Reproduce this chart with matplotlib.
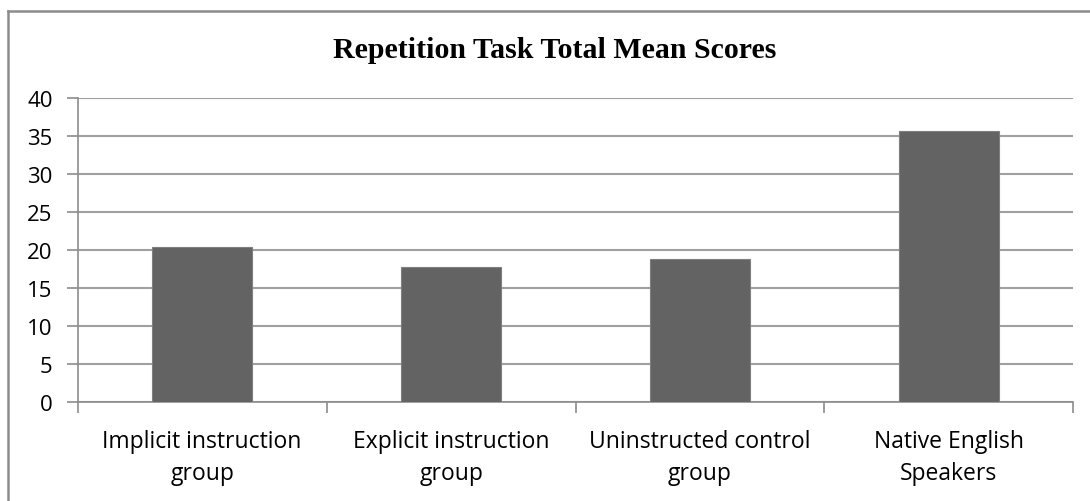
import matplotlib.pyplot as plt
from matplotlib.lines import Line2D

# data
groups = ["Implicit instruction\ngroup", "Explicit instruction\ngroup",
          "Uninstructed control\ngroup", "Native English\nSpeakers"]
mean_scores = [20.4, 17.8, 18.8, 35.7]
y_ticks = [0, 5, 10, 15, 20, 25, 30, 35, 40]

fig = plt.figure(figsize=(10.9, 5.02), dpi=100)
ax = fig.add_axes([0.0713, 0.1966, 0.9134, 0.6062])

x = list(range(len(groups)))
ax.bar(x, mean_scores, width=0.4, color="#636363", edgecolor="#7f7f7f",
       linewidth=0.8, zorder=3)

ax.set_xlim(-0.5, len(groups) - 0.5)
ax.set_ylim(0, 40)
ax.set_yticks(y_ticks)
ax.tick_params(axis="y", length=8, width=1.2, color="#8c8c8c",
               labelsize=16, pad=10)
ax.yaxis.grid(True, color="#a0a0a0", linewidth=1.5, zorder=0)

# category labels centred, tick marks on category boundaries
ax.set_xticks(x)
ax.set_xticklabels(groups, fontsize=16.5, linespacing=1.45)
ax.tick_params(axis="x", length=0, pad=19)
ax.set_xticks([i - 0.5 for i in range(len(groups) + 1)], minor=True)
ax.tick_params(axis="x", which="minor", length=8, width=1.2, color="#8c8c8c")

for side in ["top", "right"]:
    ax.spines[side].set_visible(False)
for side in ["left", "bottom"]:
    ax.spines[side].set_color("#8c8c8c")
    ax.spines[side].set_linewidth(1.2)

for lbl in ax.get_xticklabels() + ax.get_yticklabels():
    lbl.set_family("Open Sans")

fig.text(0.509, 0.899, "Repetition Task Total Mean Scores",
         family="Liberation Serif", weight="bold", fontsize=21.5,
         ha="center", va="center")

# chart area border (only left and top edges visible in the reference)
fig.add_artist(Line2D([0.0075, 0.0075], [0.0, 0.976], color="#8c8c8c",
                      linewidth=1.8, transform=fig.transFigure))
fig.add_artist(Line2D([0.0075, 1.0], [0.976, 0.976], color="#8c8c8c",
                      linewidth=1.8, transform=fig.transFigure))

fig.savefig("out.png", dpi=100)
